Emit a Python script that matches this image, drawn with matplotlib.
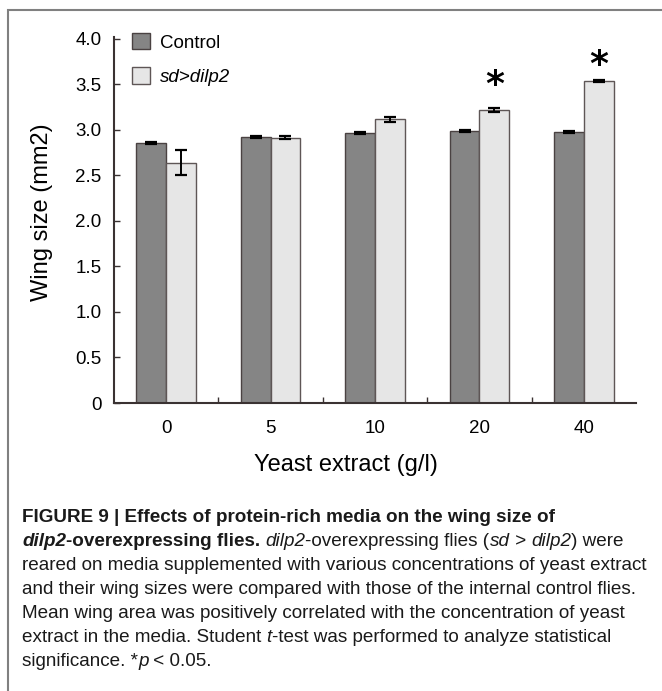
import numpy as np
import matplotlib.pyplot as plt
from matplotlib.patches import Rectangle

plt.rcParams['font.family'] = ['Liberation Sans', 'DejaVu Sans']

# ---------------------- Data ----------------------
yeast_labels = ["0", "5", "10", "20", "40"]
control_mean = [2.86, 2.92, 2.97, 2.99, 2.98]
control_err = [0.01, 0.01, 0.01, 0.01, 0.01]
dilp2_mean = [2.64, 2.915, 3.115, 3.22, 3.54]
dilp2_err = [0.135, 0.02, 0.03, 0.02, 0.01]
star_groups = [3, 4]
star_y = [3.62, 3.84]

W, H = 662, 691
fig = plt.figure(figsize=(W / 100, H / 100), dpi=100)

def px(x, y):
    return x / W, 1 - y / H

# ---------------------- Chart ----------------------
ax = fig.add_axes([114 / W, 1 - 403 / H, 522 / W, 366 / H])
x = np.arange(len(yeast_labels))
bw = 0.285
ek = dict(ecolor="black", elinewidth=1.4, capthick=1.6)
ax.bar(x - bw / 2, control_mean, bw, yerr=control_err, capsize=4, color="#858585",
       edgecolor="#4a4242", linewidth=1.0, label="Control", error_kw=ek)
ax.bar(x + bw / 2, dilp2_mean, bw, yerr=dilp2_err, capsize=4, color="#e6e6e6",
       edgecolor="#5e5656", linewidth=1.0, label="sd>dilp2", error_kw=ek)

for g, sy in zip(star_groups, star_y):
    ax.annotate("*", xy=(x[g] + bw / 2, sy), xytext=(0, -0.6 * 26), textcoords="offset points",
                ha="center", va="baseline", fontsize=26, fontweight="bold", family="DejaVu Sans")

ax.set_xlim(-0.5, 4.5)
ax.set_ylim(0, 4.02)
ax.set_yticks(np.arange(0, 4.01, 0.5))
ax.set_yticklabels(["0"] + [f"{v:.1f}" for v in np.arange(0.5, 4.01, 0.5)])
ax.set_xticks(x)
ax.set_xticklabels(yeast_labels)
ax.set_xticks(np.arange(0.5, 4.0, 1.0), minor=True)
ax.tick_params(axis="y", direction="in", length=4, width=1, pad=9, labelsize=13.5, color="#3a3232")
ax.tick_params(axis="x", which="major", length=0, pad=12, labelsize=13.5)
ax.tick_params(axis="x", which="minor", direction="in", length=4, width=1, color="#3a3232")
for s in ["top", "right"]:
    ax.spines[s].set_visible(False)
for s in ["left", "bottom"]:
    ax.spines[s].set_color("#3a3232")
    ax.spines[s].set_linewidth(1.5)

leg = ax.legend(loc="upper left", bbox_to_anchor=(0.003, 1.057), frameon=False, fontsize=13.5,
                handlelength=0.95, handleheight=0.95, handletextpad=0.5, labelspacing=0.85)
leg.get_texts()[1].set_fontstyle("italic")

fig.text(*px(42, 212), "Wing size (mm2)", rotation=90, ha="center", va="center", fontsize=17)
fig.text(*px(346, 465), "Yeast extract (g/l)", ha="center", va="center", fontsize=17)

# ---------------------- Frame ----------------------
fig.patches.append(Rectangle(px(8, 700), (W + 10 - 8) / W, (700 - 10) / H, transform=fig.transFigure,
                             fill=False, edgecolor="#808080", linewidth=1.5))

# ---------------------- Caption ----------------------
caption = [
    [("FIGURE 9 | Effects of protein-rich media on the wing size of", "b")],
    [("dilp2", "bi"), ("-overexpressing flies. ", "b"), ("dilp2", "i"), ("-overexpressing flies (", ""),
     ("sd", "i"), (" > ", ""), ("dilp2", "i"), (") were", "")],
    [("reared on media supplemented with various concentrations of yeast extract", "")],
    [("and their wing sizes were compared with those of the internal control flies.", "")],
    [("Mean wing area was positively correlated with the concentration of yeast", "")],
    [("extract in the media. Student ", ""), ("t", "i"), ("-test was performed to analyze statistical", "")],
    [("significance. *", ""), ("p", "i"), (" < 0.05.", "")],
]
renderer = fig.canvas.get_renderer()
for i, parts in enumerate(caption):
    cx = 22
    cy = 518 + i * 24
    for txt, st in parts:
        t = fig.text(*px(cx, cy), txt, ha="left", va="center", fontsize=13.6,
                     fontweight="bold" if "b" in st else "normal",
                     fontstyle="italic" if "i" in st else "normal", color="#1a1a1a")
        cx = t.get_window_extent(renderer).x1

fig.savefig("out.png", dpi=100)
